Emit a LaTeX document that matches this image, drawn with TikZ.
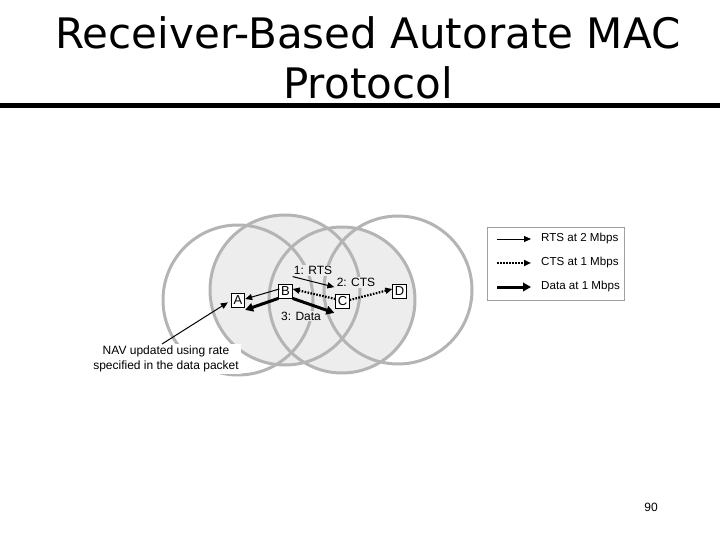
\documentclass[tikz,border=0pt]{standalone}
\usepackage{fontspec}
\setmainfont{Liberation Sans}
\newfontfamily\titlefont{DejaVu Sans}
\usetikzlibrary{arrows.meta}
\definecolor{ringgray}{HTML}{B4B4B4}
\definecolor{fillgray}{HTML}{EDEDED}
\definecolor{boxgray}{HTML}{A0A0A0}
\tikzset{
  ring/.style={draw=ringgray,line width=3pt},
  station/.style={draw=black,fill=white,line width=0.8pt,inner sep=0.5pt,minimum width=13.5pt,minimum height=14pt,font=\fontsize{13}{13}\selectfont},
  lbl/.style={font=\fontsize{12}{15}\selectfont,inner sep=1pt},
  titletext/.style={font=\titlefont\fontsize{42}{50}\selectfont,inner sep=0,anchor=base},
  tip/.style={-{Triangle[length=7pt,width=6pt]}},
  rtsarrow/.style={tip,line width=1pt},
  ctsarrow/.style={tip,line width=2.2pt,dash pattern=on 1.6pt off 1.4pt},
  dataarrow/.style={-{Triangle[length=8pt,width=8.5pt]},line width=3pt},
}
\begin{document}
\begin{tikzpicture}[x=1pt,y=-1pt]
\useasboundingbox (0,0) rectangle (720,540);
% title
\node[titletext] (title1) at (368,49) {Receiver-Based Autorate MAC};
\node[titletext] (title2) at (368,99) {Protocol};
\fill[black] (0,103.5) rectangle (720,108.5);
% coverage rings
\fill[fillgray] (285,290) circle (75);
\fill[fillgray] (342,300) circle (73);
\draw[ring] (238,300) circle (75);
\draw[ring] (285,290) circle (75);
\draw[ring] (342,300) circle (73);
\draw[ring] (398,290) circle (74);
% stations
\node[station] (A) at (238,300.5) {A};
\node[station] (B) at (285.5,291) {B};
\node[station] (C) at (342.5,301.5) {C};
\node[station] (D) at (399.5,291) {D};
% labels
\node[lbl,fill=fillgray] (l1) at (313,270.5) {1: RTS};
\node[lbl,fill=fillgray] (l2) at (356,282.5) {2: CTS};
\node[lbl,fill=fillgray] (l3) at (301,316) {3: Data};
% arrows (yshift is in page points: positive = up)
\draw[rtsarrow] ([yshift=7pt]B.north east) -- ([xshift=-1pt,yshift=7pt]C.north west);
\draw[rtsarrow] ([xshift=1pt,yshift=2pt]B.west) -- ([yshift=1.5pt]A.east);
\draw[dataarrow] (B.south west) -- ([yshift=-2pt]A.south east);
\draw[dataarrow] (B.south east) -- ([xshift=-1pt,yshift=-4pt]C.south west);
\draw[ctsarrow] ([yshift=2.5pt]C.west) -- ([yshift=2pt]B.east);
\draw[ctsarrow] ([yshift=1.5pt]C.east) -- ([yshift=2pt]D.west);
% NAV note
\node[lbl,fill=white,align=center,inner sep=2pt] (nav) at (166,359) {NAV updated using rate\\specified in the data packet};
\coordinate (navs) at (162,344);
\draw[rtsarrow] (navs) -- ([xshift=-3pt,yshift=5.5pt]A.south west);
% legend
\node[draw=boxgray,fill=white,line width=0.6pt,minimum width=137pt,minimum height=73pt,inner sep=0] (leg) at (555.5,263.5) {};
\coordinate (r0) at (497,239); \coordinate (r1) at (531,239);
\coordinate (c0) at (497,263); \coordinate (c1) at (531,263);
\coordinate (d0) at (497,287); \coordinate (d1) at (531,287);
\draw[rtsarrow] (r0) -- (r1);
\draw[ctsarrow] (c0) -- (c1);
\draw[dataarrow] (d0) -- (d1);
\node[lbl,anchor=west,font=\fontsize{11.6}{14}\selectfont] (tr) at (540,239) {RTS at 2 Mbps};
\node[lbl,anchor=west,font=\fontsize{11.6}{14}\selectfont] (tc) at (540,263) {CTS at 1 Mbps};
\node[lbl,anchor=west,font=\fontsize{11.6}{14}\selectfont] (td) at (540,287) {Data at 1 Mbps};
% page number
\node[font=\fontsize{12}{12}\selectfont,inner sep=0] (pg) at (651,507) {90};
\end{tikzpicture}
\end{document}
